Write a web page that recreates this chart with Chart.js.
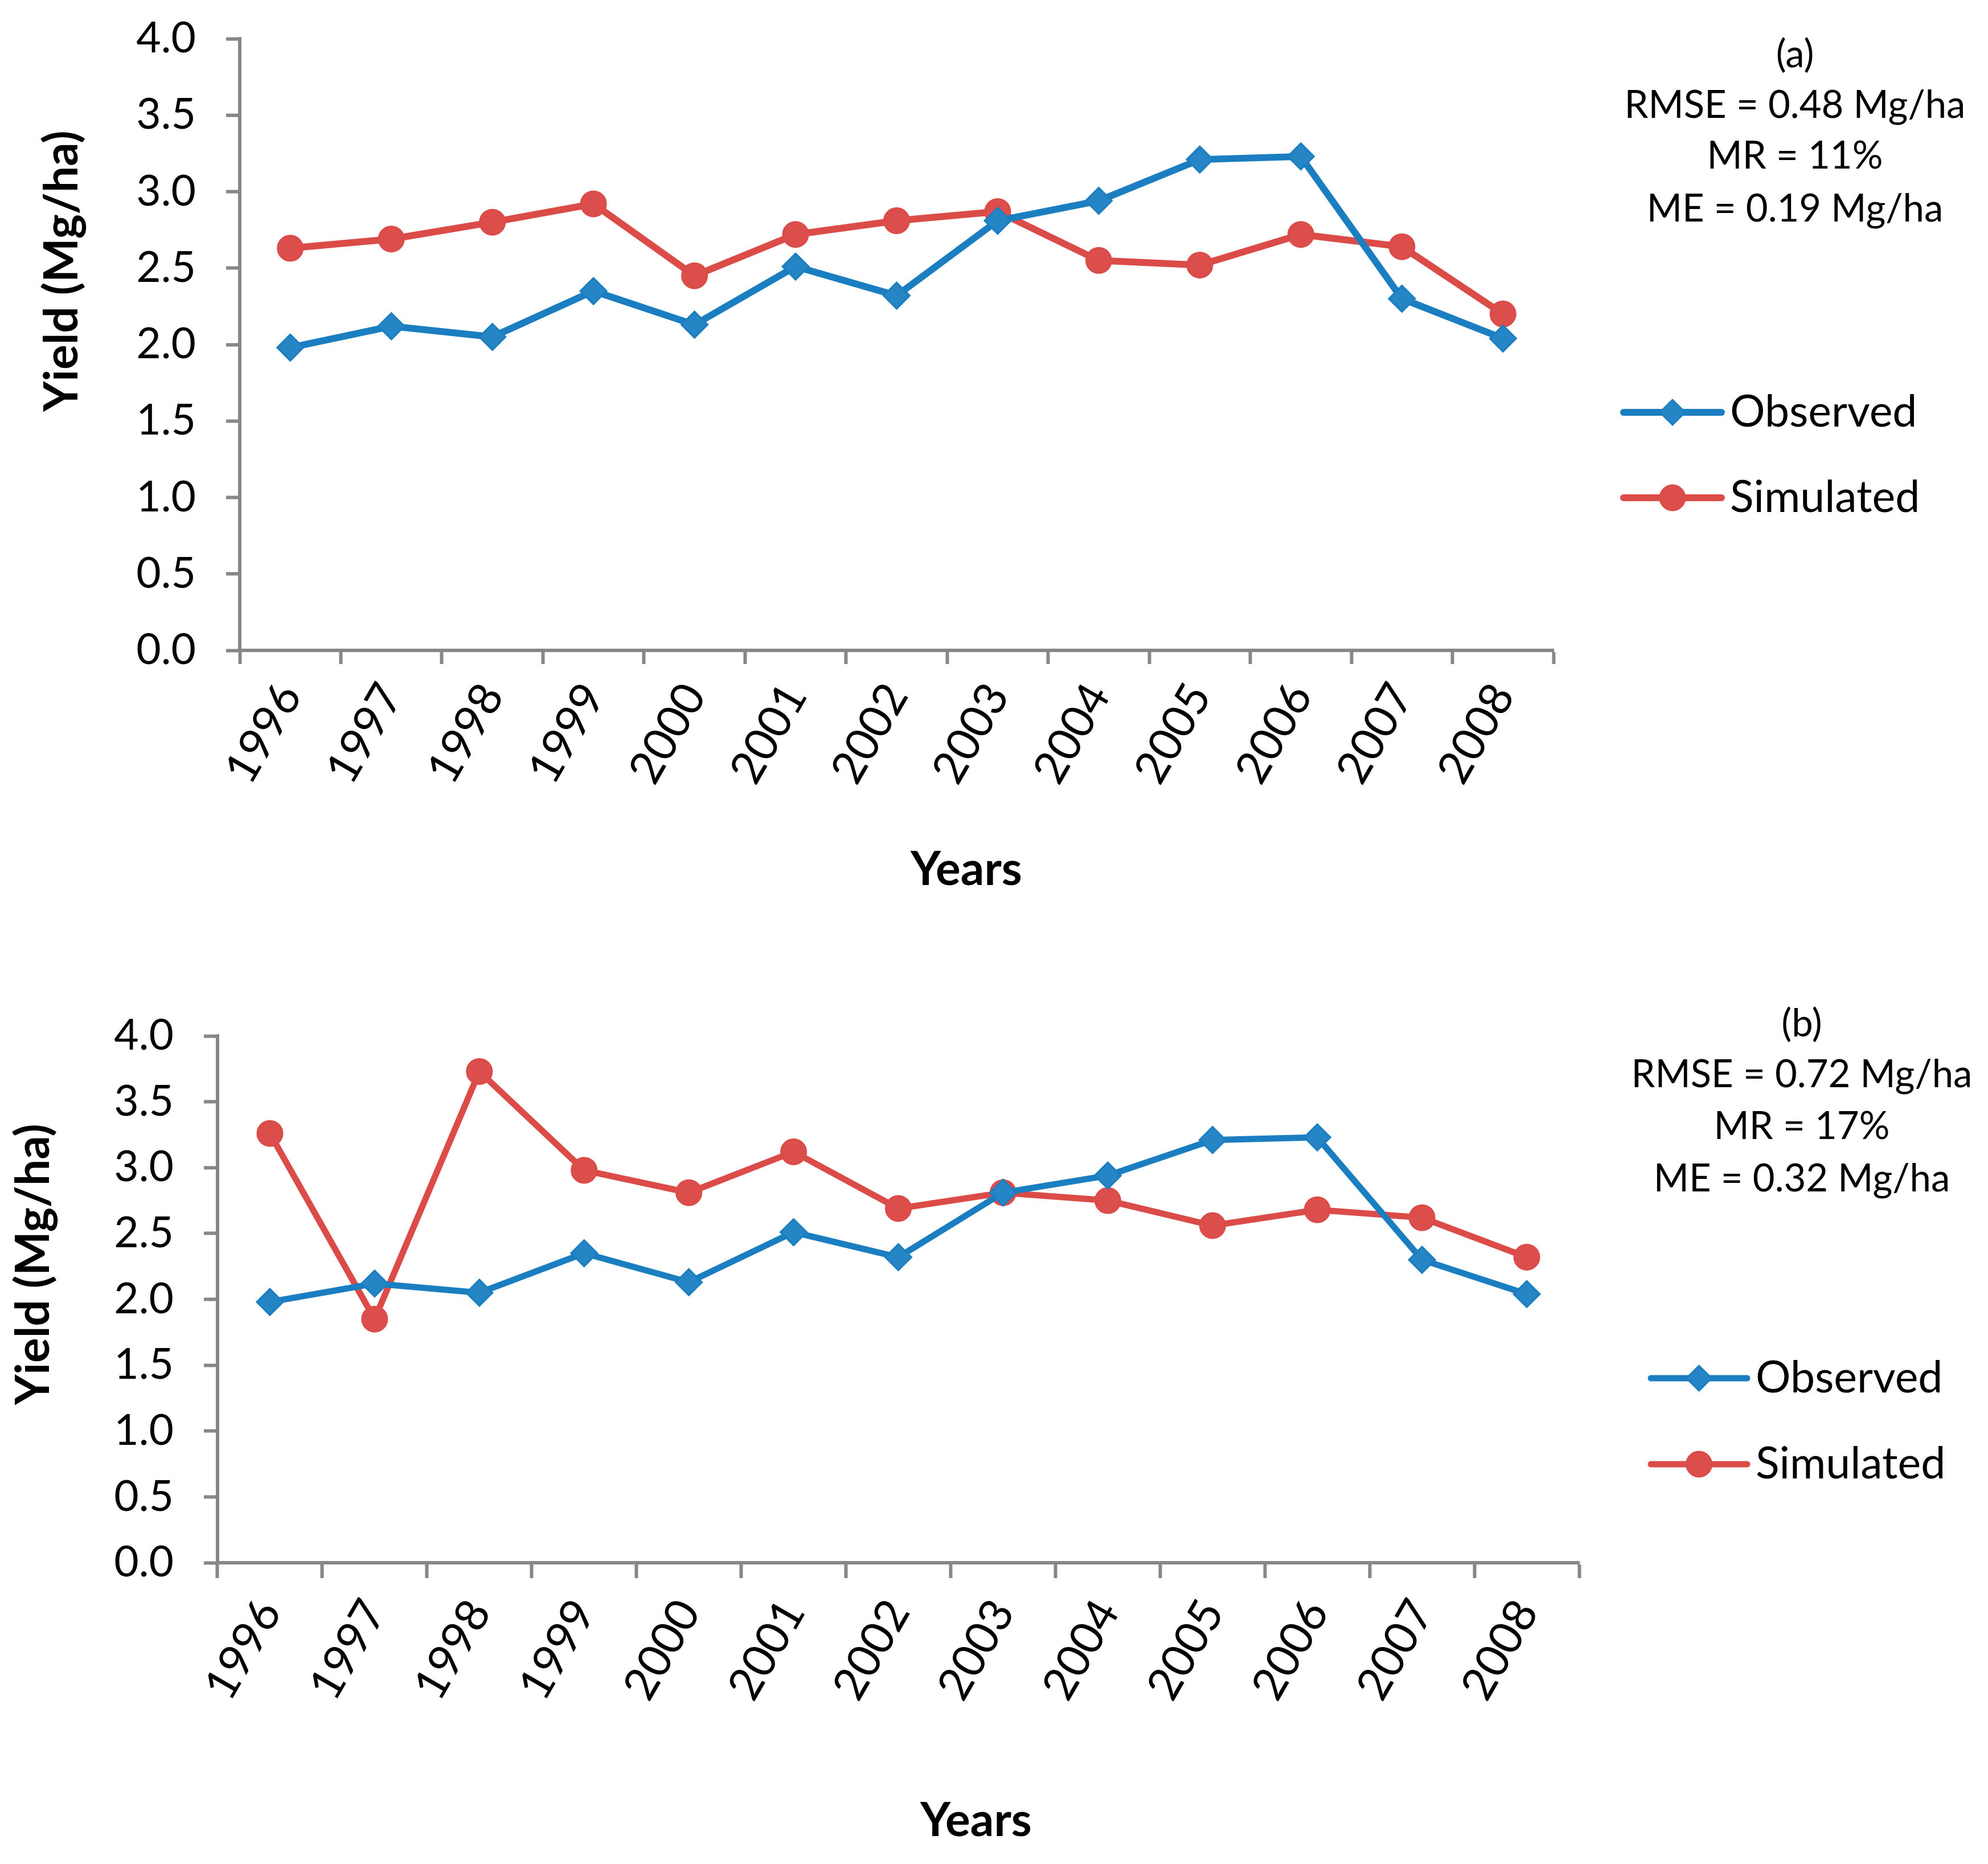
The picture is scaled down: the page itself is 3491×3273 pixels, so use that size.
<!DOCTYPE html>
<html>
<head>
<meta charset="utf-8">
<script src="https://cdn.jsdelivr.net/npm/chart.js@4.4.0/dist/chart.umd.min.js"></script>
<style>
    html, body { margin: 0; padding: 0; background: #fff; }
    body { width: 3491px; height: 3273px; position: relative; overflow: hidden; }
    canvas { position: absolute; left: 0; }
    #chartA { top: 0; }
    #chartB { top: 1640px; }
</style>
</head>
<body>
<canvas id="chartA" width="3491" height="1640"></canvas>
<canvas id="chartB" width="3491" height="1633"></canvas>
<script>
// yield data (Mg/ha)
const years = ['1996', '1997', '1998', '1999', '2000', '2001', '2002', '2003', '2004', '2005', '2006', '2007', '2008'];
const observedYield = [1.98, 2.12, 2.05, 2.35, 2.13, 2.51, 2.32, 2.81, 2.94, 3.21, 3.23, 2.30, 2.04];
const simulatedA = [2.63, 2.69, 2.80, 2.92, 2.45, 2.72, 2.81, 2.87, 2.55, 2.52, 2.72, 2.64, 2.20];
const simulatedB = [3.26, 1.85, 3.73, 2.98, 2.81, 3.12, 2.69, 2.81, 2.75, 2.56, 2.68, 2.62, 2.32];
const yTicks = [0, 0.5, 1.0, 1.5, 2.0, 2.5, 3.0, 3.5, 4.0];
const statsA = ['(a)', 'RMSE = 0.48 Mg/ha', 'MR = 11%', 'ME = 0.19 Mg/ha'];
const statsB = ['(b)', 'RMSE = 0.72 Mg/ha', 'MR = 17%', 'ME = 0.32 Mg/ha'];
const seriesNames = ['Observed', 'Simulated'];

const BLUE = '#1a7ec0';
const BLUE_FILL = '#2585c5';
const RED = '#db4b48';
const RED_FILL = '#dc4e4b';
const AXIS = '#878787';
const FONT = 'Lato';

// extra drawing: stats text, legend, axis titles
const panelExtras = {
    id: 'panelExtras',
    afterDraw(chart) {
        const L = chart.options.plugins.panelExtras;
        const ctx = chart.ctx;
        ctx.save();
        ctx.fillStyle = '#000';
        ctx.textAlign = 'center';
        ctx.textBaseline = 'middle';
        ctx.font = `67px ${FONT}`;
        L.stats.forEach((t, i) => ctx.fillText(t, L.statsX, L.statsY[i]));

        // legend
        const styles = [
            { line: BLUE, fill: BLUE_FILL, pointStyle: 'rectRot' },
            { line: RED, fill: RED_FILL, pointStyle: 'circle' }
        ];
        seriesNames.forEach((name, i) => {
            const y = L.legendY[i];
            ctx.strokeStyle = styles[i].line;
            ctx.lineWidth = L.lineWidth;
            ctx.lineCap = 'round';
            ctx.beginPath();
            ctx.moveTo(L.legendX0, y);
            ctx.lineTo(L.legendX1, y);
            ctx.stroke();
            ctx.fillStyle = styles[i].fill;
            ctx.strokeStyle = styles[i].line;
            ctx.lineWidth = 3;
            Chart.helpers.drawPoint(ctx, { pointStyle: styles[i].pointStyle, radius: 22, rotation: 0, borderWidth: 3 },
                (L.legendX0 + L.legendX1) / 2, y);
            ctx.fillStyle = '#000';
            ctx.textAlign = 'left';
            ctx.font = `77px ${FONT}`;
            ctx.fillText(name, L.legendTextX, y);
        });

        // axis titles
        ctx.font = `bold 82px ${FONT}`;
        ctx.textAlign = 'center';
        ctx.fillText('Years', L.xTitle[0], L.xTitle[1]);
        ctx.translate(L.yTitle[0], L.yTitle[1]);
        ctx.rotate(-Math.PI / 2);
        ctx.fillText('Yield (Mg/ha)', 0, 0);
        ctx.restore();
    }
};

function makePanel(canvasId, simulated, box, extras) {
    const canvas = document.getElementById(canvasId);
    return new Chart(canvas, {
        type: 'line',
        data: {
            labels: years,
            datasets: [
                {
                    label: seriesNames[0],
                    data: observedYield,
                    borderColor: BLUE,
                    backgroundColor: BLUE_FILL,
                    borderWidth: box.lineWidth,
                    pointStyle: 'rectRot',
                    pointRadius: 23,
                    pointBorderWidth: 3,
                    pointBorderColor: BLUE,
                    pointBackgroundColor: BLUE_FILL,
                    tension: 0
                },
                {
                    label: seriesNames[1],
                    data: simulated,
                    borderColor: RED,
                    backgroundColor: RED_FILL,
                    borderWidth: box.lineWidth,
                    pointStyle: 'circle',
                    pointRadius: 22,
                    pointBorderWidth: 3,
                    pointBorderColor: RED,
                    pointBackgroundColor: RED_FILL,
                    tension: 0
                }
            ]
        },
        options: {
            responsive: false,
            animation: false,
            devicePixelRatio: 1,
            layout: {
                padding: { left: 0, top: box.top, right: canvas.width - box.right, bottom: 0 }
            },
            plugins: {
                legend: { display: false },
                tooltip: { enabled: false },
                panelExtras: Object.assign({ lineWidth: box.lineWidth }, extras)
            },
            scales: {
                x: {
                    offset: true,
                    grid: { offset: true, drawOnChartArea: false, drawTicks: true, tickLength: box.tickX, tickWidth: 6, color: AXIS },
                    border: { display: true, color: AXIS, width: 6 },
                    ticks: {
                        autoSkip: false, minRotation: 60, maxRotation: 60, padding: box.labelPadX,
                        color: '#000', font: { family: FONT, size: 80 }
                    },
                    afterFit: s => { s.height = canvas.height - box.bottom; }
                },
                y: {
                    min: 0,
                    max: 4,
                    afterBuildTicks: s => { s.ticks = yTicks.map(v => ({ value: v })); },
                    grid: { drawOnChartArea: false, drawTicks: true, tickLength: 24, tickWidth: 6, color: AXIS },
                    border: { display: true, color: AXIS, width: 6 },
                    ticks: {
                        padding: 53, color: '#000', font: { family: FONT, size: 75 },
                        callback: v => Number(v).toFixed(1)
                    },
                    afterFit: s => {
                        s.width = box.left;
                        s.paddingTop = 0;
                        s.paddingBottom = 0;
                    }
                }
            }
        },
        plugins: [panelExtras]
    });
}

window.chartA = makePanel('chartA', simulatedA,
    { left: 421, top: 68, right: 2728, bottom: 1142, tickX: 24, labelPadX: 18, lineWidth: 12 },
    {
        stats: statsA, statsX: 3152, statsY: [96, 185, 274, 367],
        legendX0: 2851, legendX1: 3023, legendTextX: 3038, legendY: [724, 874],
        xTitle: [1697, 1528], yTitle: [110, 476]
    });

window.chartB = makePanel('chartB', simulatedB,
    { left: 382, top: 179, right: 2773, bottom: 1104, tickX: 27, labelPadX: 22, lineWidth: 11 },
    {
        stats: statsB, statsX: 3164, statsY: [158, 247, 338, 430],
        legendX0: 2899, legendX1: 3068, legendTextX: 3083, legendY: [780, 931],
        xTitle: [1714, 1558], yTitle: [60, 580]
    });
</script>
</body>
</html>
